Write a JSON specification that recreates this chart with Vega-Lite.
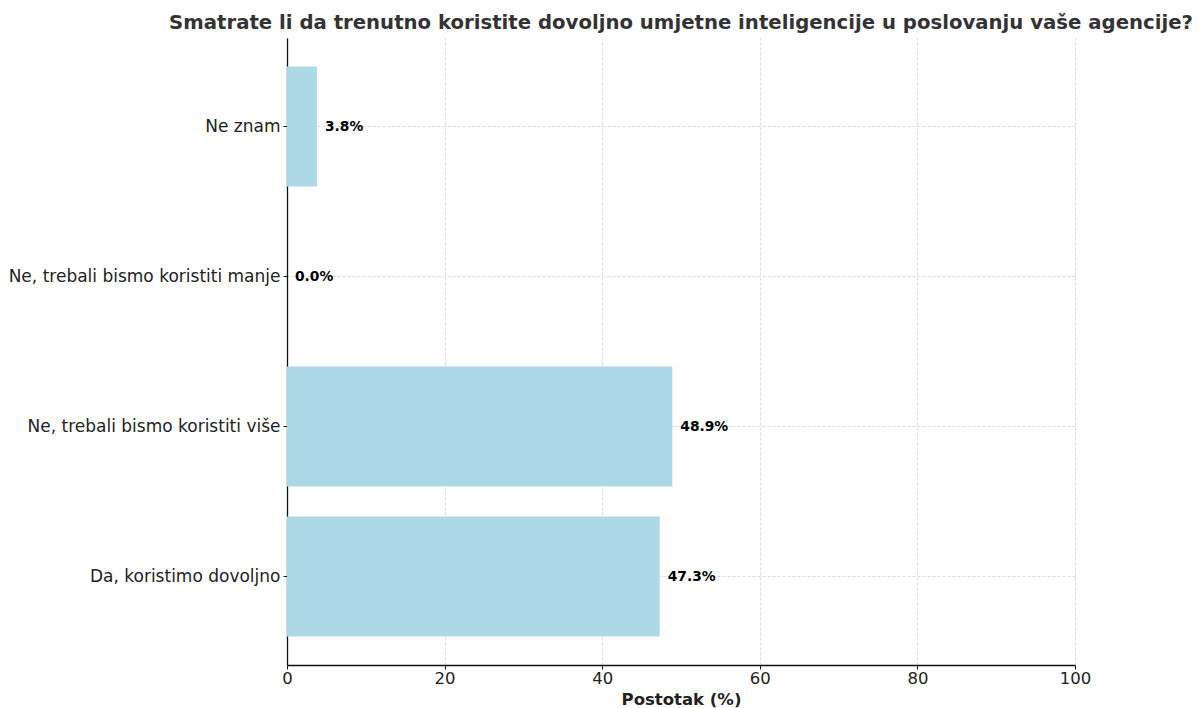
{
  "$schema": "https://vega.github.io/schema/vega-lite/v6.json",
  "autosize": {"type": "none"},
  "padding": {"left": 287, "top": 38, "right": 129, "bottom": 43},
  "width": 788,
  "height": 627,
  "background": "white",
  "config": {
    "view": {"stroke": null},
    "font": "DejaVu Sans"
  },
  "title": {
    "text": "Smatrate li da trenutno koristite dovoljno umjetne inteligencije u poslovanju vaše agencije?",
    "font": "DejaVu Sans",
    "fontSize": 19.7,
    "fontWeight": "bold",
    "color": "#333333",
    "anchor": "middle",
    "offset": 5
  },
  "data": {
    "values": [
      {"odgovor": "Ne znam", "postotak": 3.8, "label": "3.8%"},
      {"odgovor": "Ne, trebali bismo koristiti manje", "postotak": 0.0, "label": "0.0%"},
      {"odgovor": "Ne, trebali bismo koristiti više", "postotak": 48.9, "label": "48.9%"},
      {"odgovor": "Da, koristimo dovoljno", "postotak": 47.3, "label": "47.3%"}
    ]
  },
  "encoding": {
    "y": {
      "field": "odgovor",
      "type": "nominal",
      "sort": null,
      "scale": {"paddingInner": 0.2, "paddingOuter": 0.19},
      "axis": {
        "title": null,
        "labelFont": "DejaVu Sans",
        "labelFontSize": 17,
        "labelColor": "#222222",
        "labelPadding": 3,
        "labelLimit": 400,
        "domainColor": "#111111",
        "domainWidth": 1.3,
        "tickColor": "#111111",
        "tickSize": 4,
        "tickWidth": 1,
        "bandPosition": 0.5,
        "grid": true,
        "gridColor": "#d0d0d0",
        "gridDash": [3, 2],
        "gridWidth": 0.8
      }
    },
    "x": {
      "field": "postotak",
      "type": "quantitative",
      "scale": {"domain": [0, 100], "nice": false},
      "axis": {
        "title": "Postotak (%)",
        "titleFont": "DejaVu Sans",
        "titleFontSize": 16.5,
        "titleFontWeight": "bold",
        "titleColor": "#222222",
        "titlePadding": 5,
        "values": [0, 20, 40, 60, 80, 100],
        "labelFont": "DejaVu Sans",
        "labelFontSize": 16.5,
        "labelColor": "#222222",
        "labelPadding": 1,
        "labelFlush": false,
        "domainColor": "#111111",
        "domainWidth": 1.3,
        "tickColor": "#111111",
        "tickSize": 4,
        "grid": true,
        "gridColor": "#d0d0d0",
        "gridDash": [3, 2],
        "gridWidth": 0.8
      }
    }
  },
  "layer": [
    {
      "mark": {"type": "bar", "color": "#add8e6"}
    },
    {
      "mark": {
        "type": "text",
        "align": "left",
        "baseline": "middle",
        "dx": 8,
        "font": "DejaVu Sans",
        "fontSize": 13.8,
        "fontWeight": "bold",
        "color": "black"
      },
      "encoding": {"text": {"field": "label"}}
    }
  ]
}
